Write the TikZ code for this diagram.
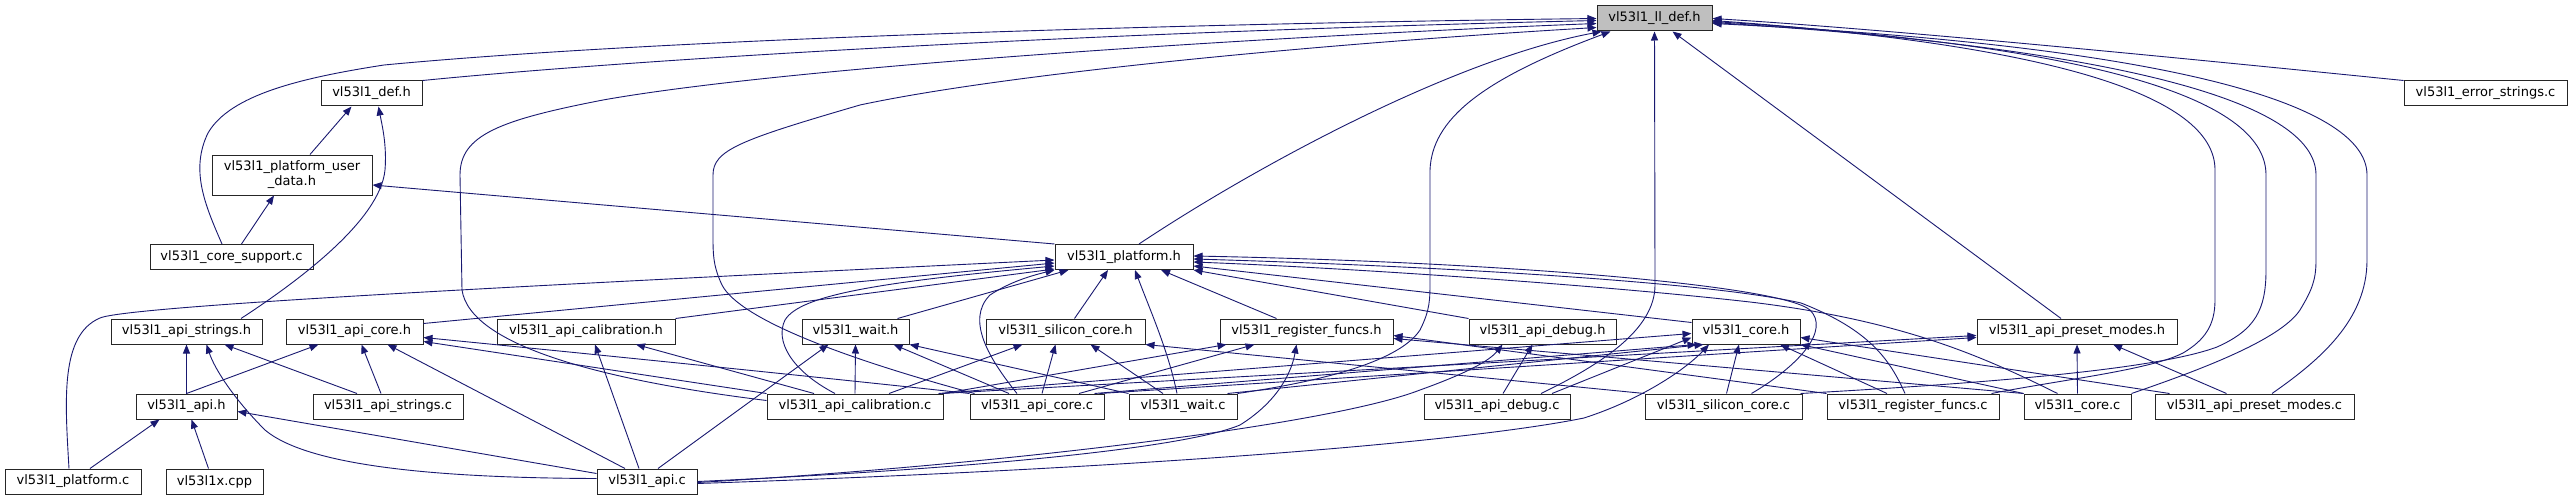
\documentclass[tikz,border=0pt]{standalone}
\usepackage{fontspec}
\setmainfont{DejaVu Sans}
\usetikzlibrary{arrows.meta}
\definecolor{edgeblue}{HTML}{191970}
\definecolor{rootgray}{HTML}{BFBFBF}
\begin{document}
\begin{tikzpicture}[x=1pt,y=-1pt,
  fbox/.style={draw=black!85, line width=1pt, fill=white, inner sep=0pt, minimum height=25pt, font=\fontsize{13}{15}\selectfont, text=black, align=center},
  e/.style={draw=edgeblue, line width=0.9pt, -{Triangle[length=9pt,width=7pt]}},
]
\useasboundingbox[fill=white] (0,0) rectangle (2572,500);
% nodes
\node[fbox, fill=rootgray, minimum width=115pt] (lldef) at (1654.5,18.5) {vl53l1\_ll\_def.h};
\node[fbox, minimum width=101pt] (def) at (371.5,93.5) {vl53l1\_def.h};
\node[fbox, minimum width=163pt] (errstr) at (2485.5,93.5) {vl53l1\_error\_strings.c};
\node[fbox, minimum width=160pt, minimum height=40pt] (pud) at (292,175) {vl53l1\_platform\_user\\\_data.h};
\node[fbox, minimum width=163pt] (coresup) at (231.5,257) {vl53l1\_core\_support.c};
\node[fbox, minimum width=138pt] (plat) at (1124,257) {vl53l1\_platform.h};
% row 2
\node[fbox, minimum width=151pt] (apistrh) at (186.5,331.5) {vl53l1\_api\_strings.h};
\node[fbox, minimum width=137pt] (apicoreh) at (354.5,331.5) {vl53l1\_api\_core.h};
\node[fbox, minimum width=178pt] (apicalh) at (586,331.5) {vl53l1\_api\_calibration.h};
\node[fbox, minimum width=107pt] (waith) at (855.5,331.5) {vl53l1\_wait.h};
\node[fbox, minimum width=159pt] (silh) at (1065.5,331.5) {vl53l1\_silicon\_core.h};
\node[fbox, minimum width=173pt] (regh) at (1306.5,331.5) {vl53l1\_register\_funcs.h};
\node[fbox, minimum width=147pt] (dbgh) at (1542.5,331.5) {vl53l1\_api\_debug.h};
\node[fbox, minimum width=108pt] (coreh) at (1746,331.5) {vl53l1\_core.h};
\node[fbox, minimum width=200pt] (preseth) at (2077,331.5) {vl53l1\_api\_preset\_modes.h};
% row 3
\node[fbox, minimum width=101pt] (apih) at (186.5,406.5) {vl53l1\_api.h};
\node[fbox, minimum width=150pt] (apistrc) at (388,406.5) {vl53l1\_api\_strings.c};
\node[fbox, minimum width=176pt] (apicalc) at (855,406.5) {vl53l1\_api\_calibration.c};
\node[fbox, minimum width=134pt] (apicorec) at (1037,406.5) {vl53l1\_api\_core.c};
\node[fbox, minimum width=108pt] (waitc) at (1183,406.5) {vl53l1\_wait.c};
\node[fbox, minimum width=146pt] (dbgc) at (1497,406.5) {vl53l1\_api\_debug.c};
\node[fbox, minimum width=157pt] (silc) at (1723.5,406.5) {vl53l1\_silicon\_core.c};
\node[fbox, minimum width=172pt] (regc) at (1913,406.5) {vl53l1\_register\_funcs.c};
\node[fbox, minimum width=107pt] (corec) at (2077.5,406.5) {vl53l1\_core.c};
\node[fbox, minimum width=199pt] (presetc) at (2254.5,406.5) {vl53l1\_api\_preset\_modes.c};
% row 4
\node[fbox, minimum width=136pt] (platc) at (73,481.5) {vl53l1\_platform.c};
\node[fbox, minimum width=97pt] (cpp) at (214.5,481.5) {vl53l1x.cpp};
\node[fbox, minimum width=100pt] (apic) at (647,481.5) {vl53l1\_api.c};

% ---- edges to ll_def.h
\draw[e] (def.north east) .. controls (650,58) and (1100,32) .. ([yshift=-2pt]lldef.west);
\draw[e] ([xshift=-9.5pt]coresup.north) .. controls (205,205) and (190,170) .. (208,133) .. controls (230,95) and (300,78) .. (384,65) .. controls (700,35) and (1300,22) .. (lldef.west);
\draw[e] ([yshift=6pt]apicalc.west) .. controls (600,380) and (470,345) .. (462,290) -- (460,175) .. controls (460,135) and (500,120) .. (603,100) .. controls (800,65) and (1300,35) .. ([yshift=-5pt]lldef.west);
\draw[e] ([xshift=5pt]apicorec.north west) .. controls (850,360) and (740,320) .. (722,285) .. controls (715,270) and (713,260) .. (713,240) -- (713,175) .. controls (713,150) and (740,140) .. (860,105) .. controls (1000,75) and (1300,45) .. ([yshift=-9pt]lldef.west);
\draw[e] ([xshift=15pt]plat.north) .. controls (1250,170) and (1450,60) .. ([xshift=5pt]lldef.south west);
\draw[e] (waitc.north east) .. controls (1330,380) and (1400,360) .. (1420,330) .. controls (1430,310) and (1430,300) .. (1430,280) -- (1430,170) .. controls (1432,120) and (1480,80) .. ([xshift=14pt]lldef.south west);
\draw[e] ([xshift=44pt]dbgc.north) .. controls (1600,365) and (1655,330) .. (1655,285) -- (lldef.south);
\draw[e] ([xshift=-16pt]preseth.north) -- ([xshift=18pt]lldef.south);
\draw[e] (errstr.north west) .. controls (2200,60) and (1900,30) .. (lldef.east);
\draw[e] ([xshift=-8pt]regc.north east) .. controls (2060,380) and (2150,370) .. (2183,353) .. controls (2205,340) and (2215,325) .. (2215,300) -- (2215,170) .. controls (2215,95) and (2050,45) .. ([yshift=-2pt]lldef.east);
\draw[e] ([xshift=-2pt]silc.north east) .. controls (1950,385) and (2150,372) .. (2217,347) .. controls (2255,330) and (2266,310) .. (2266,270) -- (2266,175) .. controls (2266,95) and (2080,45) .. ([yshift=-3pt]lldef.east);
\draw[e] (corec.north east) .. controls (2200,370) and (2280,340) .. (2300,310) .. controls (2312,290) and (2316,280) .. (2316,260) -- (2316,175) .. controls (2316,100) and (2110,48) .. ([yshift=-4pt]lldef.east);
\draw[e] ([xshift=17.5pt]presetc.north) .. controls (2320,360) and (2367,320) .. (2367,260) -- (2367,175) .. controls (2367,100) and (2150,45) .. ([yshift=-5pt]lldef.east);

% ---- to def.h
\draw[e] ([xshift=18pt]pud.north) -- ([xshift=-20pt]def.south);
\draw[e] ([xshift=54.5pt]apistrh.north) .. controls (300,280) and (380,220) .. (385,170) .. controls (387,145) and (382,125) .. ([xshift=7pt]def.south);

% ---- to platform_user_data.h
\draw[e] ([xshift=10pt]coresup.north) -- ([xshift=-18pt]pud.south);
\draw[e] (plat.north west) -- ([yshift=-10pt]pud.east);

% ---- to platform.h
\draw[e] ([xshift=-4pt]platc.north) .. controls (65,400) and (60,335) .. (100,318) .. controls (130,305) and (600,282) .. ([yshift=-3pt]plat.west);
\draw[e] ([yshift=8pt]apicoreh.east) -- ([yshift=-6pt]plat.west);
\draw[e] ([xshift=-20pt]apicalc.north) .. controls (790,370) and (775,340) .. (785,320) .. controls (800,295) and (880,282) .. ([yshift=-9pt]plat.west);
\draw[e] (apicalh.north east) -- ([yshift=-12pt]plat.west);
\draw[e] ([xshift=42pt]waith.north) -- ([xshift=14pt]plat.south west);
\draw[e] ([xshift=-20pt]apicorec.north) .. controls (990,360) and (965,320) .. (990,295) .. controls (1010,282) and (1030,276) .. (plat.south west);
\draw[e] ([xshift=9pt]silh.north) -- ([xshift=-16pt]plat.south);
\draw[e] ([xshift=-6pt]waitc.north) .. controls (1168,350) and (1150,310) .. ([xshift=11pt]plat.south);
\draw[e] ([xshift=-30pt]regh.north) -- ([xshift=37pt]plat.south);
\draw[e] (dbgh.north west) -- (plat.south east);
\draw[e] ([yshift=9pt]coreh.west) -- ([yshift=-9pt]plat.east);
\draw[e] ([xshift=28pt]silc.north) .. controls (1800,365) and (1830,330) .. (1810,310) .. controls (1780,285) and (1500,262) .. ([yshift=1pt]plat.east);
\draw[e] ([xshift=-8pt]regc.north) .. controls (1890,360) and (1870,330) .. (1801,303) .. controls (1700,280) and (1400,265) .. ([yshift=-2pt]plat.east);
\draw[e] ([xshift=-20pt]corec.north) .. controls (1980,355) and (1900,320) .. (1750,302) .. controls (1600,285) and (1350,268) .. ([yshift=-5pt]plat.east);

% ---- to silicon_core.h
\draw[e] ([xshift=34pt]apicalc.north) -- ([xshift=-43pt]silh.south);
\draw[e] ([xshift=5pt]apicorec.north) -- ([xshift=-10pt]silh.south);
\draw[e] ([xshift=-20pt]waitc.north) -- ([xshift=25pt]silh.south);
\draw[e] (silc.north west) -- (silh.south east);

% ---- to register_funcs.h
\draw[e] (apicalc.north east) -- ([xshift=-80pt]regh.south);
\draw[e] ([xshift=42pt]apicorec.north) -- ([xshift=-52pt]regh.south);
\draw[e] (apic.east) .. controls (950,470) and (1180,450) .. (1240,425) .. controls (1280,400) and (1292,370) .. ([xshift=-10pt]regh.south);
\draw[e] (regc.north west) -- ([yshift=-4pt]regh.east);
\draw[e] (corec.north west) -- ([yshift=-7pt]regh.east);

% ---- to wait.h
\draw[e] ([xshift=11pt]apic.north) -- ([xshift=-27pt]waith.south);
\draw[e] (apicalc.north) -- (waith.south);
\draw[e] ([xshift=-28pt]apicorec.north) -- ([xshift=38pt]waith.south);
\draw[e] (waitc.north west) -- (waith.south east);

% ---- to api_debug.h
\draw[e] ([xshift=6pt]dbgc.north) -- ([xshift=-10pt]dbgh.south);
\draw[e] ([yshift=-1pt]apic.east) .. controls (1000,465) and (1330,425) .. (1420,390) .. controls (1470,372) and (1490,360) .. ([xshift=-40pt]dbgh.south);

% ---- to core.h
\draw[e] ([yshift=-2pt]apic.east) .. controls (1100,470) and (1450,445) .. (1584,418) .. controls (1640,400) and (1685,370) .. ([xshift=-37pt]coreh.south);
\draw[e] ([xshift=3pt]silc.north) -- ([xshift=-7pt]coreh.south);
\draw[e] ([xshift=-26pt]regc.north) -- ([xshift=34pt]coreh.south);
\draw[e] (corec.north west) -- (coreh.south east);
\draw[e] ([xshift=15pt]presetc.north west) -- ([yshift=-6pt]coreh.east);
\draw[e] ([xshift=-5pt]apicalc.north east) -- ([yshift=-2pt]coreh.west);
\draw[e] ([xshift=-10pt]apicorec.north east) -- ([xshift=5pt]coreh.south west);
\draw[e] ([xshift=-10pt]waitc.north east) -- ([xshift=12pt]coreh.south west);
\draw[e] ([xshift=55pt]dbgc.north) -- ([yshift=-6pt]coreh.west);

% ---- to api_preset_modes.h
\draw[e] ([xshift=-2pt]apicalc.north east) -- ([yshift=-4pt]preseth.west);
\draw[e] ([xshift=-5pt]apicorec.north east) -- ([yshift=-6pt]preseth.west);
\draw[e] (corec.north) -- (preseth.south);
\draw[e] ([xshift=-28pt]presetc.north) -- ([xshift=36pt]preseth.south);

% ---- to api_calibration.h
\draw[e] ([xshift=-8pt]apic.north) -- ([xshift=9pt]apicalh.south);
\draw[e] ([xshift=-41pt]apicalc.north) -- ([xshift=50pt]apicalh.south);

% ---- to api_core.h
\draw[e] (apih.north) -- ([xshift=-36pt]apicoreh.south);
\draw[e] ([xshift=-7pt]apistrc.north) -- ([xshift=7pt]apicoreh.south);
\draw[e] ([xshift=-22pt]apic.north) -- ([xshift=33pt]apicoreh.south);
\draw[e] (apicalc.north west) -- ([yshift=3pt]apicoreh.south east);
\draw[e] (apicorec.north west) .. controls (800,375) and (550,350) .. ([yshift=7pt]apicoreh.south east);

% ---- to api_strings.h
\draw[e] (apih.north) -- (apistrh.south);
\draw[e] ([yshift=3pt]apic.west) .. controls (450,478) and (310,468) .. (265,430) .. controls (235,400) and (215,370) .. ([xshift=20pt]apistrh.south);
\draw[e] ([xshift=-31pt]apistrc.north) -- ([xshift=38pt]apistrh.south);

% ---- to api.h
\draw[e] ([xshift=17pt]platc.north) -- ([xshift=-27pt]apih.south);
\draw[e] ([xshift=-6pt]cpp.north) -- ([xshift=5pt]apih.south);
\draw[e] ([yshift=8pt]apic.west) -- ([yshift=-5pt]apih.east);
\end{tikzpicture}
\end{document}
